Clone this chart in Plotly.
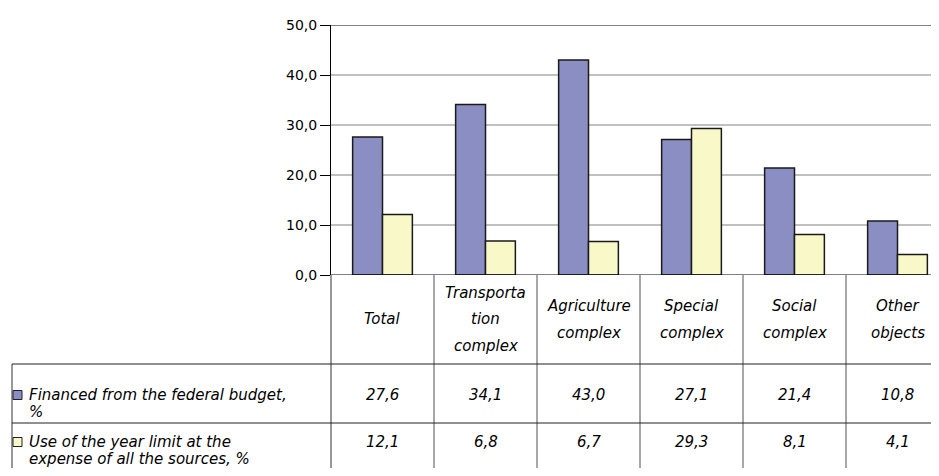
import plotly.graph_objects as go

# ---- data ----
categories = ["Total", "Transportation complex", "Agriculture complex",
              "Special complex", "Social complex", "Other objects"]
category_lines = [["Total"], ["Transporta", "tion", "complex"], ["Agriculture", "complex"],
                  ["Special", "complex"], ["Social", "complex"], ["Other", "objects"]]
federal = [27.6, 34.1, 43.0, 27.1, 21.4, 10.8]
year_limit = [12.1, 6.8, 6.7, 29.3, 8.1, 4.1]
series_names = [["Financed from the federal budget,", "%"],
                ["Use of the year limit at the", "expense of all the sources, %"]]
y_ticks = [0, 10, 20, 30, 40, 50]

# figure sized to sit inside the page body margin (8px)
OFF = 8
W, H = 939 - 2 * OFF, 476 - 2 * OFF
BLUE = "#8B8EC2"
YELLOW = "#F8F8C8"
FONT = "DejaVu Sans"
TXT = 15


def py(p):
    """reference page y pixel -> paper fraction"""
    return (H - (p - OFF)) / H


def px(p):
    """reference page x pixel -> paper fraction"""
    return (p - OFF) / W


x_idx = list(range(len(categories)))

fig = go.Figure()
fig.add_trace(go.Bar(x=x_idx, y=federal, marker=dict(color=BLUE, line=dict(color="#1a1a1a", width=1.5)),
                     name=" ".join(series_names[0])))
fig.add_trace(go.Bar(x=x_idx, y=year_limit, marker=dict(color=YELLOW, line=dict(color="#1a1a1a", width=1.5)),
                     name=" ".join(series_names[1])))

plot_top, plot_bottom, plot_left = 25, 275, 331
cat_w = 103.0
visible = (W + OFF - plot_left) / cat_w

fig.update_layout(
    width=W, height=H, margin=dict(l=0, r=0, t=0, b=0),
    paper_bgcolor="white", plot_bgcolor="white",
    showlegend=False, barmode="group", bargap=0.42, bargroupgap=0,
    font=dict(family=FONT, size=TXT, color="black"),
    xaxis=dict(domain=[px(plot_left), 1], range=[-0.5, -0.5 + visible],
               showticklabels=False, showgrid=False, zeroline=False,
               showline=False, ticks="", fixedrange=True),
    yaxis=dict(domain=[py(plot_bottom), py(plot_top)], range=[0, 50],
               tickvals=y_ticks, tickformat=".1f",
               showgrid=True, gridcolor="#c0c0c0", gridwidth=1.5,
               showline=True, linecolor="black", linewidth=1,
               ticks="outside", ticklen=10, tickcolor="black",
               tickfont=dict(family=FONT, size=14, color="black"),
               zeroline=False, automargin=False, fixedrange=True),
    separators=", ",
)

shapes = []
# top border and x axis baseline
for yv in (50, 0):
    shapes.append(dict(type="line", xref="x domain", yref="y", x0=0, x1=1, y0=yv, y1=yv,
                       line=dict(color="black", width=1)))
# table: vertical lines at category boundaries
shapes.append(dict(type="line", xref="x domain", yref="paper", x0=0, x1=0,
                   y0=0, y1=py(plot_bottom), line=dict(color="#303030", width=1)))
for i in x_idx[1:]:
    shapes.append(dict(type="line", xref="x", yref="paper", x0=i - 0.5, x1=i - 0.5,
                       y0=0, y1=py(plot_bottom), line=dict(color="#505050", width=1)))
# table left border and horizontal rules
shapes.append(dict(type="line", xref="paper", yref="paper", x0=px(12), x1=px(12),
                   y0=0, y1=py(364), line=dict(color="#303030", width=1)))
for rowy in (364, 423):
    shapes.append(dict(type="line", xref="paper", yref="paper", x0=px(12), x1=1,
                       y0=py(rowy), y1=py(rowy), line=dict(color="#202020", width=1)))

annotations = []
# header labels
for i, lines in zip(x_idx, category_lines):
    n = len(lines)
    for k, ln in enumerate(lines):
        yc = 319.5 + (k - (n - 1) / 2) * 26.5
        annotations.append(dict(x=i, y=py(yc), xref="x", yref="paper", text=f"<i>{ln}</i>",
                                showarrow=False, xanchor="center", yanchor="middle",
                                font=dict(family=FONT, size=TXT, color="black")))
# values rows
row_y = [395, 442]
legend_line_y = [[395, 412], [442, 459]]
colors = [BLUE, YELLOW]
for r, vals in enumerate([federal, year_limit]):
    for i, v in zip(x_idx, vals):
        annotations.append(dict(x=i, y=py(row_y[r]), xref="x", yref="paper",
                                text=f"<i>{v:.1f}</i>".replace(".", ","),
                                showarrow=False, xanchor="center", yanchor="middle",
                                font=dict(family=FONT, size=TXT, color="black")))
    for k, ln in enumerate(series_names[r]):
        annotations.append(dict(x=px(27), y=py(legend_line_y[r][k]), xref="paper", yref="paper",
                                text=f"<i>{ln}</i>", showarrow=False, xanchor="left",
                                yanchor="middle", font=dict(family=FONT, size=TXT, color="black")))
    shapes.append(dict(type="rect", xref="paper", yref="paper",
                       x0=px(13), x1=px(22), y0=py(row_y[r] + 4.5), y1=py(row_y[r] - 4.5),
                       fillcolor=colors[r], line=dict(color="#202020", width=1)))

fig.update_layout(shapes=shapes, annotations=annotations)
fig.write_html("out.html")
